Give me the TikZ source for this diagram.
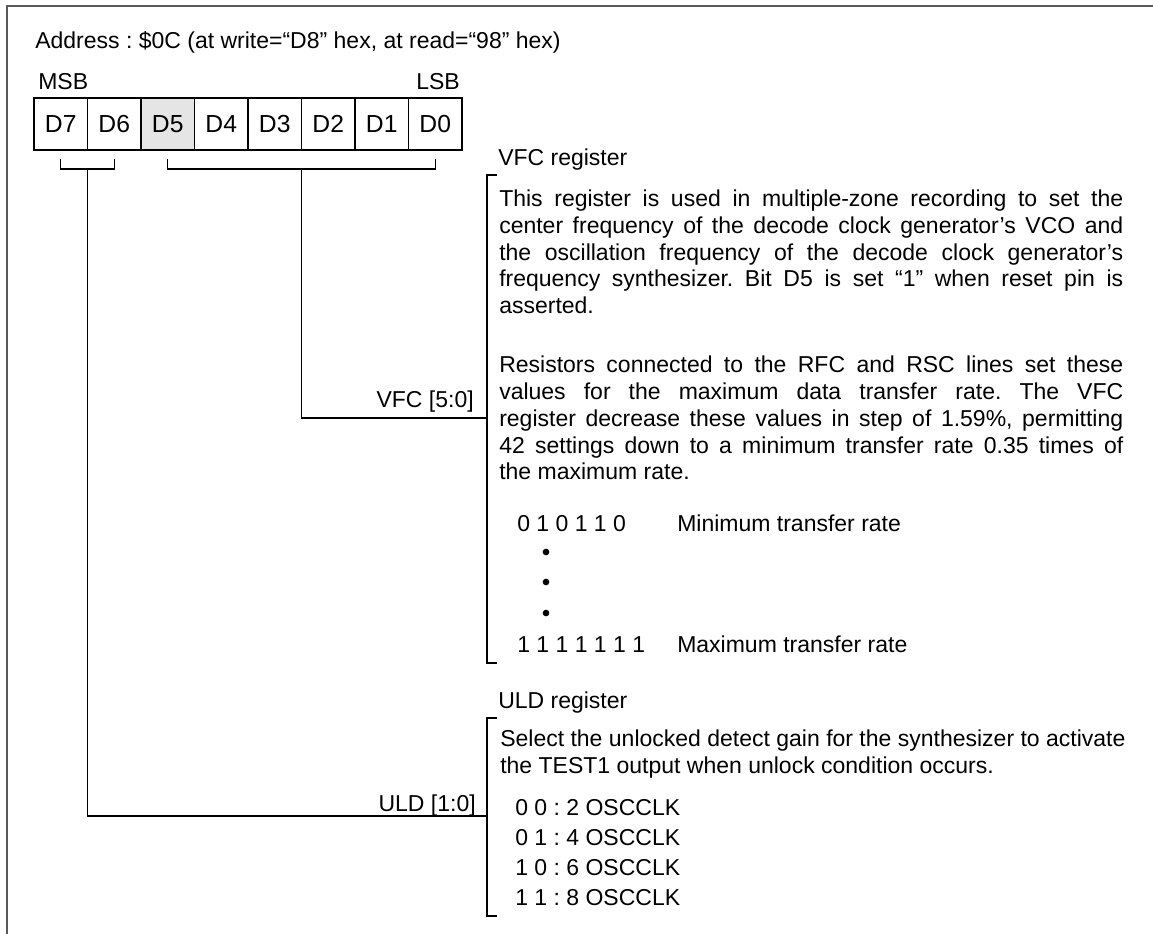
\documentclass[tikz,border=0pt]{standalone}
\usepackage{fontspec}
\setmainfont{Liberation Sans}
\usetikzlibrary{positioning}
\frenchspacing
\newcommand{\fullline}[1]{\makebox[\linewidth][s]{#1}}

\begin{document}
\begin{tikzpicture}[
    x=0.75pt, y=-0.75pt,
    every node/.style={inner sep=0pt, font=\fontsize{17.25pt}{20pt}\selectfont},
    cell/.style={draw, line width=1pt, outer sep=0pt, minimum width=40.125pt, minimum height=39pt,
                 font=\fontsize{18.5pt}{20pt}\selectfont, text height=13.2pt, text depth=0pt},
    wire/.style={line width=0.8pt},
    frame/.style={line width=1.5pt, draw=black!65},
    dot/.style={circle, fill, minimum size=5pt}
]
    \useasboundingbox (0,0) rectangle (1153,934);
    \draw[frame] (1153,6) -- (7,6) -- (7,934);

    \node[anchor=base west] (addr) at (35,49) {Address : \$0C (at write=“D8” hex, at read=“98” hex)};
    \node[anchor=base west] (msb) at (38,90) {MSB};
    \node[anchor=base east] (lsb) at (460,90) {LSB};

    % register bits
    \node[cell, anchor=north west] (d7) at (34,98) {D7};
    \node[cell, right=0pt of d7] (d6) {D6};
    \node[cell, fill=black!10, right=0pt of d6] (d5) {D5};
    \node[cell, right=0pt of d5] (d4) {D4};
    \node[cell, right=0pt of d4] (d3) {D3};
    \node[cell, right=0pt of d3] (d2) {D2};
    \node[cell, right=0pt of d2] (d1) {D1};
    \node[cell, right=0pt of d1] (d0) {D0};

    % brackets under the bits
    \coordinate (tickrow) at (0,159);
    \coordinate (barrow) at (0,169);
    \draw[wire] (d7.south |- tickrow) -- (d7.south |- barrow) -- (d6.south |- barrow) -- (d6.south |- tickrow);
    \draw[wire] (d5.south |- tickrow) -- (d5.south |- barrow) -- (d0.south |- barrow) -- (d0.south |- tickrow);

    % VFC field
    \coordinate (vfctop) at (487,175);
    \coordinate (vfcbot) at (487,663);
    \coordinate (vfcjoin) at (487,418);
    \draw[wire] ([xshift=7.5pt]vfctop) -- (vfctop) -- (vfcbot) -- ([xshift=7.5pt]vfcbot);
    \draw[wire] (d3.south east |- barrow) |- (vfcjoin);
    \node[anchor=base east] (vfclbl) at (474,407) {VFC [5:0]};
    \node[anchor=base west] (vfchead) at (498,166) {VFC register};
    \node[anchor=base west] (vfctxt) at (499,207) {\parbox[t]{468pt}{%
        \fullline{This register is used in multiple-zone recording to set the}\\
        \fullline{center frequency of the decode clock generator’s VCO and}\\
        \fullline{the oscillation frequency of the decode clock generator’s}\\
        \fullline{frequency synthesizer. Bit D5 is set “1” when reset pin is}\\
        asserted.}};
    \node[anchor=base west] (vfcnote) at (499,373) {\parbox[t]{468pt}{%
        \fullline{Resistors connected to the RFC and RSC lines set these}\\
        \fullline{values for the maximum data transfer rate. The VFC}\\
        \fullline{register decrease these values in step of 1.59\%, permitting}\\
        \fullline{42 settings down to a minimum transfer rate 0.35 times of}\\
        the maximum rate.}};
    \node[anchor=base west] (minbits) at (517,531) {0 1 0 1 1 0};
    \node[anchor=base west] (mintxt) at (677,531) {Minimum transfer rate};
    \node[dot] (dota) at (546,552) {};
    \node[dot] (dotb) at (546,582) {};
    \node[dot] (dotc) at (546,613) {};
    \node[anchor=base west] (maxbits) at (517,652) {1 1 1 1 1 1 1};
    \node[anchor=base west] (maxtxt) at (677,652) {Maximum transfer rate};

    % ULD field
    \coordinate (uldtop) at (487,718);
    \coordinate (uldbot) at (487,916);
    \coordinate (uldjoin) at (487,816);
    \draw[wire] ([xshift=7.5pt]uldtop) -- (uldtop) -- (uldbot) -- ([xshift=7.5pt]uldbot);
    \draw[wire] (d7.south east |- barrow) |- (uldjoin);
    \node[anchor=base east] (uldlbl) at (476,811) {ULD [1:0]};
    \node[anchor=base west] (uldhead) at (498,708) {ULD register};
    \node[anchor=base west] (uldtxt) at (500,746) {\parbox[t]{480pt}{\fontsize{17.25pt}{20.7pt}\selectfont
        Select the unlocked detect gain for the synthesizer to activate\\
        the TEST1 output when unlock condition occurs.}};
    \node[anchor=base west] (uldopts) at (515,815) {\parbox[t]{200pt}{\fontsize{17.25pt}{22.5pt}\selectfont
        0 0 : 2 OSCCLK\\
        0 1 : 4 OSCCLK\\
        1 0 : 6 OSCCLK\\
        1 1 : 8 OSCCLK}};
\end{tikzpicture}
\end{document}
